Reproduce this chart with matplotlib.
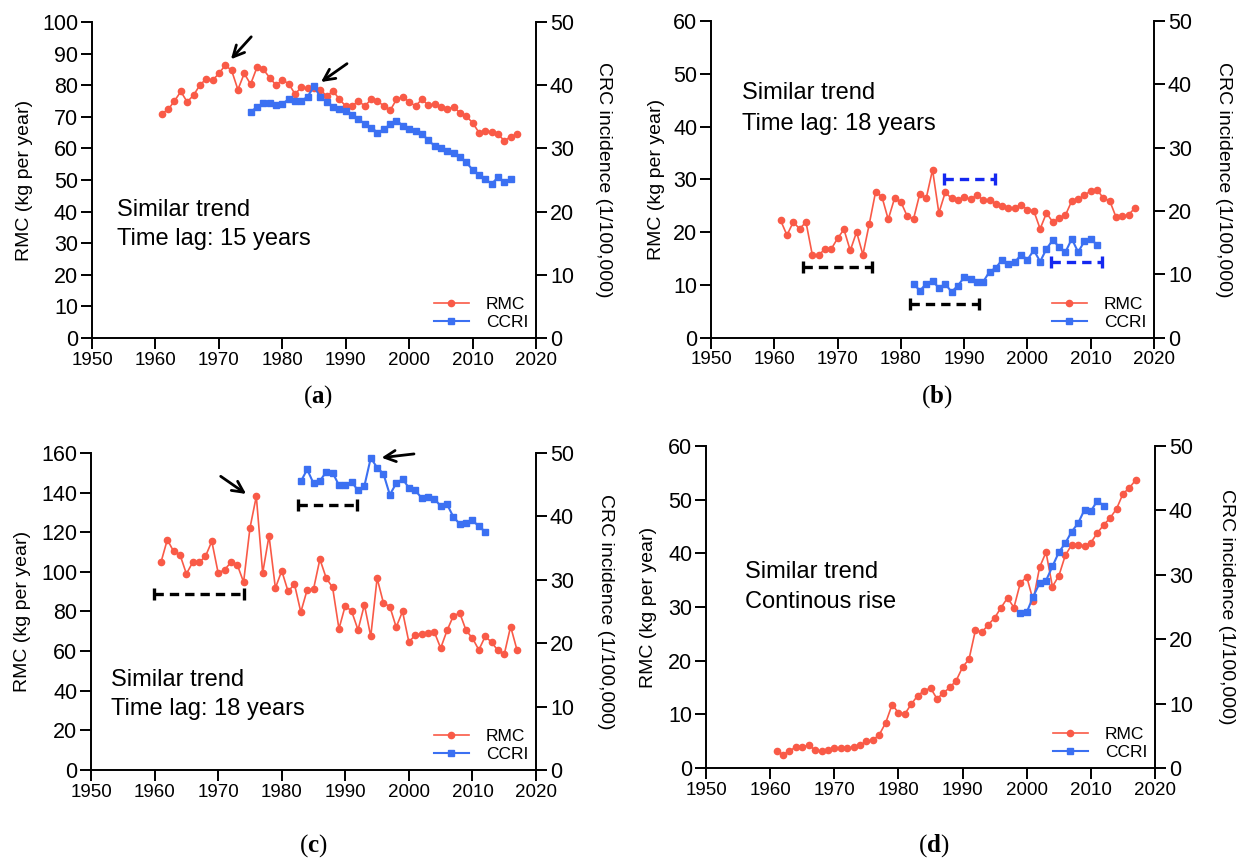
import numpy as np
import matplotlib
matplotlib.use('Agg')
import matplotlib.pyplot as plt
from matplotlib.lines import Line2D

plt.rcParams['font.family'] = 'Liberation Sans'
plt.rcParams['mathtext.fontset'] = 'custom'
plt.rcParams['mathtext.rm'] = 'Liberation Serif'
plt.rcParams['mathtext.bf'] = 'Liberation Serif:bold'

RED = '#F95A47'
BLUE = '#3B70F2'

# RMC years are the same for all four panels
rmc_years = np.arange(1961, 2018)

rmc_a = [71.0, 72.3, 75.0, 78.0, 74.7, 76.8, 80.0, 82.0, 81.5, 83.7,
         86.3, 84.7, 78.6, 83.7, 80.3, 85.6, 85.0, 82.4, 80.0, 81.6,
         80.5, 77.2, 79.3, 79.0, 79.0, 78.6, 76.5, 78.2, 75.5, 73.4,
         73.4, 75.0, 73.4, 75.5, 75.0, 73.4, 72.0, 75.5, 76.3, 74.7,
         73.4, 75.5, 73.7, 74.0, 73.0, 72.6, 73.0, 71.3, 70.2, 68.1,
         65.0, 65.5, 65.2, 64.5, 62.4, 63.7, 64.5]
ccri_a_years = np.arange(1975, 2017)
ccri_a = [35.8, 36.5, 37.2, 37.1, 36.8, 37.0, 37.8, 37.5, 37.5, 38.2,
          39.8, 38.1, 37.4, 36.6, 36.3, 35.9, 35.3, 34.6, 33.9, 33.3,
          32.5, 33.0, 33.8, 34.4, 33.6, 33.1, 32.7, 32.3, 31.3, 30.4,
          30.0, 29.6, 29.3, 28.6, 27.8, 26.6, 25.8, 25.1, 24.4, 25.4,
          24.7, 25.1]

rmc_b = [22.2, 19.4, 21.9, 20.6, 21.9, 15.7, 15.6, 16.8, 16.8, 18.8,
         20.5, 16.5, 20.0, 15.7, 21.5, 27.6, 26.7, 22.4, 26.4, 25.7,
         23.0, 22.5, 27.3, 26.4, 31.8, 23.6, 27.5, 26.4, 26.1, 26.6,
         26.2, 27.0, 26.1, 26.1, 25.4, 24.9, 24.5, 24.6, 25.2, 24.2,
         24.0, 20.6, 23.6, 21.9, 22.6, 23.2, 25.9, 26.2, 27.0, 27.8,
         28.0, 26.4, 25.9, 22.8, 23.0, 23.3, 24.6]
ccri_b_years = np.arange(1982, 2012)
ccri_b = [8.5, 7.4, 8.5, 9.0, 7.8, 8.5, 7.2, 8.2, 9.5, 9.3,
          8.8, 8.8, 10.4, 11.0, 12.3, 11.6, 11.9, 13.1, 12.3, 13.8,
          12.0, 14.0, 15.4, 14.3, 13.5, 15.6, 13.5, 15.2, 15.6, 14.6]

rmc_c = [104.8, 116.2, 110.3, 108.6, 99.0, 104.8, 104.8, 107.8, 115.4, 99.4,
         101.0, 104.8, 103.6, 94.8, 122.1, 138.1, 99.4, 118.2, 91.8, 100.5,
         90.1, 93.8, 79.7, 90.9, 91.3, 106.4, 96.8, 92.1, 71.2, 83.0,
         80.0, 70.7, 83.4, 67.4, 96.8, 84.2, 82.5, 72.1, 80.0, 64.5,
         68.2, 68.5, 69.1, 69.6, 61.5, 70.4, 77.8, 79.2, 70.4, 66.5,
         60.6, 67.4, 64.5, 60.3, 58.4, 72.4, 60.6]
ccri_c_years = np.arange(1983, 2013)
ccri_c = [45.5, 47.4, 45.2, 45.6, 47.0, 46.9, 44.9, 44.9, 45.4, 44.1,
          44.8, 49.2, 47.7, 46.7, 43.4, 45.2, 45.9, 44.5, 44.1, 42.9,
          43.0, 42.8, 41.6, 41.9, 39.9, 38.8, 38.9, 39.4, 38.4, 37.6]

rmc_d = [3.2, 2.5, 3.2, 3.9, 4.0, 4.2, 3.4, 3.1, 3.4, 3.7,
         3.7, 3.7, 3.9, 4.2, 5.0, 5.2, 6.2, 8.4, 11.8, 10.3,
         10.1, 11.9, 13.5, 14.4, 14.9, 12.9, 14.0, 15.0, 16.3, 18.8,
         20.3, 25.7, 25.3, 26.7, 28.0, 29.9, 31.7, 29.9, 34.5, 35.6,
         31.2, 37.4, 40.2, 33.8, 35.8, 39.6, 41.6, 41.5, 41.4, 42.0,
         43.8, 45.3, 46.6, 48.3, 51.1, 52.2, 53.7]
ccri_d_years = np.arange(1999, 2013)
ccri_d = [24.1, 24.2, 26.6, 28.7, 29.1, 31.3, 33.5, 34.9, 36.7, 38.0,
          40.1, 39.9, 41.5, 40.7]

# annotation texts
text_a = ['Similar trend', 'Time lag: 15 years']
text_b = ['Similar trend', 'Time lag: 18 years']
text_c = ['Similar trend', 'Time lag: 18 years']
text_d = ['Similar trend', 'Continous rise']

# dashed period bars: (x start, x end, y on RMC axis, colour)
bars_b = [(1964.5, 1975.4, 13.3, 'black'), (1981.4, 1992.4, 6.4, 'black'),
          (1986.8, 1994.9, 30.0, '#1428F0'), (2003.7, 2011.8, 14.3, '#1428F0')]
bars_c = [(1959.9, 1974.0, 88.9, 'black'), (1982.5, 1991.8, 133.9, 'black')]

# arrows: (tail x, tail y, head x, head y) on RMC axis
arrows_a = [(1975.1, 95.3, 1971.9, 88.2), (1990.2, 86.8, 1986.1, 81.0)]
arrows_c = [(1970.4, 148.2, 1974.4, 139.3), (2000.8, 159.5, 1995.7, 157.6)]

fig = plt.figure(figsize=(12.4, 8.58), dpi=100)


def panel(rect, rmc, ccri_years, ccri, ymax, ystep, text, text_xy, caption, cap_xy,
          lab_x, bars=(), arrows=()):
    ax = fig.add_axes(rect)
    ax2 = ax.twinx()
    ax.plot(rmc_years, rmc, color=RED, lw=1.2, marker='o', ms=4.5, label='RMC', clip_on=False)
    ax2.plot(ccri_years, ccri, color=BLUE, lw=1.5, marker='s', ms=4.5, label='CCRI', clip_on=False)

    ax.set_xlim(1950, 2020)
    ax.set_xticks(np.arange(1950, 2021, 10))
    ax.set_ylim(0, ymax)
    ax.set_yticks(np.arange(0, ymax + 1, ystep))
    ax2.set_ylim(0, 50)
    ax2.set_yticks(np.arange(0, 51, 10))

    for a in (ax, ax2):
        for s in a.spines.values():
            s.set_linewidth(1.4)
        a.spines['top'].set_visible(False)
        a.tick_params(direction='out', length=8, width=1.4, pad=2)
        a.tick_params(axis='y', labelsize=15.5)
    ax.tick_params(axis='x', labelsize=13.5)
    ax.spines['right'].set_visible(False)
    ax2.spines['left'].set_visible(False)
    ax2.spines['bottom'].set_visible(False)

    ax.set_ylabel('RMC (kg per year)', fontsize=14, va='center')
    ax.yaxis.set_label_coords(lab_x[0], 0.5)
    ax2.set_ylabel('CRC incidence (1/100,000)', fontsize=14, rotation=270, va='center')
    ax2.yaxis.set_label_coords(lab_x[1], 0.5)

    ax.text(text_xy[0], text_xy[1], text[0], fontsize=17, ha='left', va='center')
    ax.text(text_xy[0], text_xy[2], text[1], fontsize=17, ha='left', va='center')

    for x0, x1, y, c in bars:
        ax.plot([x0, x1], [y, y], color=c, lw=2.4, ls=(0, (2.8, 1.8)))
        ax.plot([x0, x1], [y, y], color=c, ls='none', marker='|', ms=8.5, mew=2.4)

    for tx, ty, hx, hy in arrows:
        ax.annotate('', xy=(hx, hy), xytext=(tx, ty), annotation_clip=False,
                    arrowprops=dict(arrowstyle='->', color='black', lw=2.0,
                                    mutation_scale=20, shrinkA=0, shrinkB=0))

    handles = [Line2D([], [], color=RED, lw=1.2, marker='o', ms=4.5),
               Line2D([], [], color=BLUE, lw=1.5, marker='s', ms=4.5)]
    ax2.legend(handles, ['RMC', 'CCRI'], loc='lower right', frameon=False, fontsize=12.5,
               handlelength=2.0, handletextpad=1.0, labelspacing=0.15, borderaxespad=0.05)

    fig.text(cap_xy[0] / 1240, 1 - cap_xy[1] / 858, caption, fontsize=18, ha='center', va='center')


panel([0.0742, 0.6061, 0.3581, 0.3683], rmc_a, ccri_a_years, ccri_a, 100, 10,
      text_a, (1953.9, 40.5, 31.3), r'$(\mathbf{a})$', (318, 397), (-0.153, 1.152),
      arrows=arrows_a)
panel([0.5734, 0.6066, 0.3573, 0.3689], rmc_b, ccri_b_years, ccri_b, 60, 10,
      text_b, (1954.9, 46.3, 40.5), r'$(\mathbf{b})$', (937, 397), (-0.124, 1.157),
      bars=bars_b)
panel([0.0734, 0.1026, 0.3589, 0.3695], rmc_c, ccri_c_years, ccri_c, 160, 20,
      text_c, (1953.2, 45.4, 30.6), r'$(\mathbf{c})$', (313, 846), (-0.155, 1.156),
      bars=bars_c, arrows=arrows_c)
panel([0.5694, 0.1049, 0.3621, 0.3753], rmc_d, ccri_d_years, ccri_d, 60, 10,
      text_d, (1956.0, 36.6, 31.0), r'$(\mathbf{d})$', (934, 846), (-0.129, 1.159))

fig.savefig('out.png', dpi=100)
